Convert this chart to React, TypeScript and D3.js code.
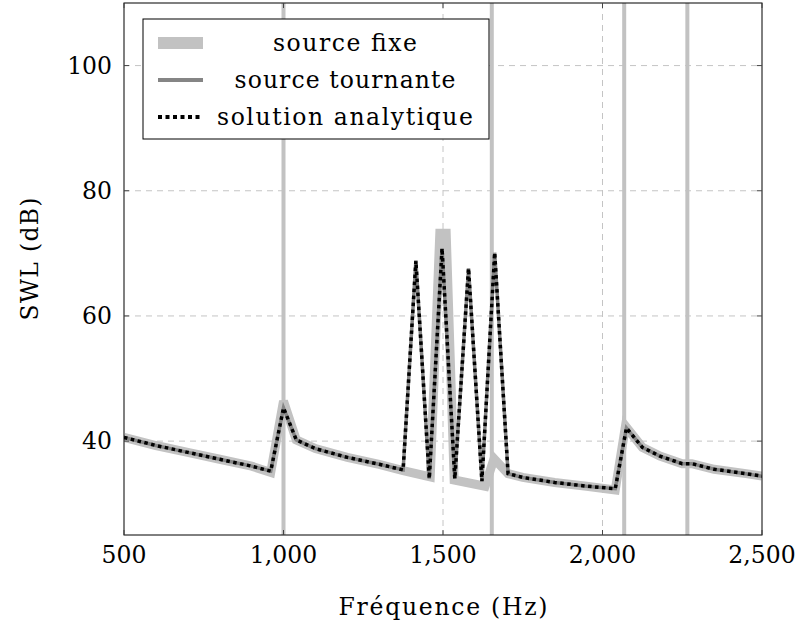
import React from "react";
import * as d3 from "d3";

const freqTicks = [500, 1000, 1500, 2000, 2500];
const levelTicks = [40, 60, 80, 100];

// solution analytique
const analyticFreq = [500, 600, 700, 800, 900, 960, 1000, 1040, 1100, 1200, 1300, 1375, 1415, 1457, 1497, 1537, 1580, 1622, 1662, 1704, 1750, 1850, 1950, 2040, 2075, 2125, 2180, 2250, 2280, 2350, 2450, 2500];
const analyticLevel = [40.6, 39.3, 38.2, 37.1, 36.0, 35.2, 45.3, 40.2, 38.8, 37.4, 36.3, 35.4, 68.8, 34.0, 70.8, 34.0, 67.6, 33.6, 70.1, 34.8, 34.2, 33.4, 32.8, 32.4, 42.1, 39.0, 37.6, 36.4, 36.4, 35.5, 34.8, 34.4];

// source tournante (coincides with the analytic solution)
const rotatingFreq = analyticFreq;
const rotatingLevel = analyticLevel;

// source fixe
const fixedFreq = [500, 600, 700, 800, 900, 960, 1000, 1040, 1100, 1200, 1300, 1375, 1460, 1490, 1510, 1535, 1632, 1660, 1704, 1750, 1850, 1950, 2040, 2072, 2125, 2180, 2250, 2280, 2350, 2450, 2500];
const fixedLevel = [40.6, 39.3, 38.2, 37.1, 36.0, 35.0, 46.4, 40.2, 38.8, 37.4, 36.3, 35.3, 34.3, 73.2, 73.2, 33.8, 32.8, 37.2, 34.8, 34.2, 33.4, 32.8, 32.2, 42.4, 39.0, 37.6, 36.4, 36.4, 35.5, 34.8, 34.4];

// vertical light lines
const verticalFreqs = [1000, 1653, 2068, 2266];

const legendLabels = ["source fixe", "source tournante", "solution analytique"];
const legendWidths = [144, 221, 256];

const W = 798, H = 628;
const L = 124, R = 762, T = 3, B = 535;
const FONT = "'DejaVu Serif', 'Liberation Serif', serif";
const FS = 23.5;
const LIGHT = "#c2c2c2";
const MID = "#858585";

export default function App() {
  const x = d3.scaleLinear().domain([500, 2500]).range([L, R]);
  const y = d3.scaleLinear().domain([25, 110]).range([B, T]);
  const line = d3.line<[number, number]>().x(d => x(d[0])).y(d => y(d[1]));
  const fixedPath = line(fixedFreq.map((f, i) => [f, fixedLevel[i]]))!;
  const rotPath = line(rotatingFreq.map((f, i) => [f, rotatingLevel[i]]))!;
  const anaPath = line(analyticFreq.map((f, i) => [f, analyticLevel[i]]))!;
  const fmt = d3.format(",");

  const legX = 143, legY = 19, legW = 346, legH = 120;
  const rowY = [43, 80, 117];

  return (
    <svg width={W} height={H} style={{ position: "absolute", left: 0, top: 0, background: "#fff" }} fontFamily={FONT}>
      <defs>
        <clipPath id="plot"><rect x={L} y={T} width={R - L} height={B - T} /></clipPath>
      </defs>
      {/* grid */}
      <g stroke="#c4c4c4" strokeWidth={1} strokeDasharray="6,5">
        {levelTicks.map(t => <line key={"gy" + t} x1={L} x2={R} y1={y(t)} y2={y(t)} />)}
        {freqTicks.slice(1, -1).map(t => <line key={"gx" + t} x1={x(t)} x2={x(t)} y1={T} y2={B} />)}
      </g>
      <g clipPath="url(#plot)">
        {verticalFreqs.map(f => <line key={"v" + f} x1={x(f)} x2={x(f)} y1={T} y2={B} stroke={LIGHT} strokeWidth={4} />)}
        <path d={fixedPath} fill="none" stroke={LIGHT} strokeWidth={9} strokeLinejoin="miter" strokeMiterlimit={3} />
        <path d={rotPath} fill="none" stroke={MID} strokeWidth={3.5} />
        <path d={anaPath} fill="none" stroke="#000" strokeWidth={3.5} strokeDasharray="3.5,3.5" />
      </g>
      {/* frame and ticks */}
      <rect x={L} y={T} width={R - L} height={B - T} fill="none" stroke="#000" strokeWidth={1} />
      <g stroke="#444" strokeWidth={1}>
        {levelTicks.map(t => <line key={"ly" + t} x1={L} x2={L + 5} y1={y(t)} y2={y(t)} />)}
        {levelTicks.map(t => <line key={"ry" + t} x1={R} x2={R - 5} y1={y(t)} y2={y(t)} />)}
        {freqTicks.map(t => <line key={"bx" + t} x1={x(t)} x2={x(t)} y1={B} y2={B - 5} />)}
        {freqTicks.map(t => <line key={"tx" + t} x1={x(t)} x2={x(t)} y1={T} y2={T + 5} />)}
      </g>
      {/* tick labels */}
      <g fontSize={FS} fill="#000">
        {levelTicks.map(t => (
          <text key={"yl" + t} x={L - 12} y={y(t) + 8} textAnchor="end">{t}</text>
        ))}
        {freqTicks.map(t => (
          <text key={"xl" + t} x={x(t)} y={B + 28} textAnchor="middle">{fmt(t)}</text>
        ))}
      </g>
      <text x={443} y={615} fontSize={FS} textAnchor="middle" textLength={209} lengthAdjust="spacing">Fréquence (Hz)</text>
      <text transform={`translate(38,${(T + B) / 2 - 10}) rotate(-90)`} fontSize={FS} textAnchor="middle" textLength={123} lengthAdjust="spacing">SWL (dB)</text>
      {/* legend */}
      <rect x={legX} y={legY} width={legW} height={legH} fill="#fff" stroke="#000" strokeWidth={1} />
      <line x1={158} x2={203} y1={rowY[0]} y2={rowY[0]} stroke={LIGHT} strokeWidth={12} />
      <line x1={158} x2={203} y1={rowY[1]} y2={rowY[1]} stroke={MID} strokeWidth={4} />
      <line x1={158} x2={203} y1={rowY[2]} y2={rowY[2]} stroke="#000" strokeWidth={4} strokeDasharray="4,3.5" />
      {legendLabels.map((s, i) => (
        <text key={s} x={345} y={rowY[i] + 8} fontSize={FS} textAnchor="middle" textLength={legendWidths[i]} lengthAdjust="spacing">{s}</text>
      ))}
    </svg>
  );
}
